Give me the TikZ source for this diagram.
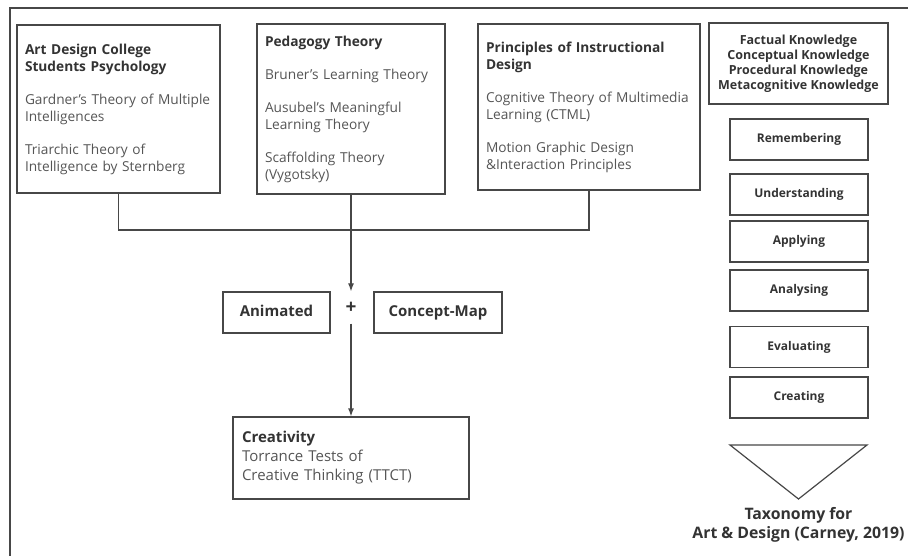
\documentclass[tikz,border=0pt]{standalone}
\usepackage{fontspec}
\setmainfont{Open Sans}
\usetikzlibrary{arrows.meta}
\definecolor{linegray}{HTML}{474747}
\definecolor{textgray}{HTML}{555555}
\definecolor{headgray}{HTML}{333333}
\newcommand\boxhead[1]{{\bfseries\color{headgray}#1}}

\begin{document}
\begin{tikzpicture}[x=1pt, y=-1pt,
    line width=1.2pt,
    every node/.style={inner sep=0pt},
    theory/.style={draw=linegray, align=left, text=textgray,
        font=\fontsize{13.7}{17}\selectfont},
    level/.style={draw=linegray, align=center, text=headgray,
        minimum width=138pt, minimum height=41pt,
        font=\fontsize{12}{15}\selectfont\bfseries},
    media/.style={draw=linegray, text=headgray, text height=11pt, text depth=3pt,
        minimum height=41pt, font=\fontsize{15}{17}\selectfont\bfseries},
    flow/.style={draw=linegray, -{Latex[length=8pt,width=6pt]}}]

\useasboundingbox (0,0) rectangle (908,556);
\draw[linegray] (10,556) -- (10,8) -- (908,8);

\node[theory, minimum width=203pt, minimum height=168pt, text width=187pt]
    (psych) at (118.5,109)
    {\boxhead{Art Design College}\\ \boxhead{Students Psychology}\\[16pt]
     Gardner's Theory of Multiple\\ Intelligences\\[16pt]
     Triarchic Theory of\\ Intelligence by Sternberg};
\node[theory, minimum width=188pt, minimum height=170pt, text width=172pt]
    (peda) at (351,109)
    {\boxhead{Pedagogy Theory}\\[16pt]
     Bruner's Learning Theory\\[16pt]
     Ausubel's Meaningful\\ Learning Theory\\[16pt]
     Scaffolding Theory\\ (Vygotsky)};
\node[theory, minimum width=222pt, minimum height=166pt, text width=206pt]
    (instr) at (589,107)
    {\boxhead{Principles of Instructional}\\ \boxhead{Design}\\[16pt]
     Cognitive Theory of Multimedia\\ Learning (CTML)\\[16pt]
     Motion Graphic Design\\ \&Interaction Principles};

\node[level, minimum width=179pt, minimum height=81pt,
      font=\fontsize{12.5}{15}\selectfont\bfseries] (know) at (798.5,63.5)
    {Factual Knowledge\\ Conceptual Knowledge\\ Procedural Knowledge\\ Metacognitive Knowledge};
\node[level] (remember) at (799,139.5) {Remembering};
\node[level] (understand) at (799,194.5) {Understanding};
\node[level] (apply) at (799,241.5) {Applying};
\node[level] (analyse) at (799,290.5) {Analysing};
\node[level] (evaluate) at (799,347) {Evaluating};
\node[level] (create) at (799,397.5) {Creating};
\draw[linegray] (730,445) -- (867,445) -- (798.5,499) -- cycle;
\node[align=center, text=headgray, font=\fontsize{15.8}{19}\selectfont\bfseries]
    (taxonomy) at (798.5,525) {Taxonomy for\\ Art \& Design (Carney, 2019)};

\coordinate (join) at (351,230);
\draw[linegray] (psych.south) |- (join) -| (instr.south);

\node[media, minimum width=107pt] (anim) at (276.5,312.5) {Animated};
\node[media, minimum width=128pt] (cmap) at (438,312.5) {Concept-Map};
\node[minimum height=31pt, text=headgray, font=\fontsize{19}{19}\selectfont\bfseries]
    (plus) at (351,307.5) {+};

\node[theory, minimum width=236pt, minimum height=82pt, text width=218pt,
      font=\fontsize{15}{19}\selectfont]
    (creat) at (351,458)
    {\boxhead{Creativity}\\ Torrance Tests of\\ Creative Thinking (TTCT)};

\draw[flow] (peda.south) -- (plus.north);
\draw[flow] (plus.south) -- (creat.north);

\end{tikzpicture}
\end{document}
